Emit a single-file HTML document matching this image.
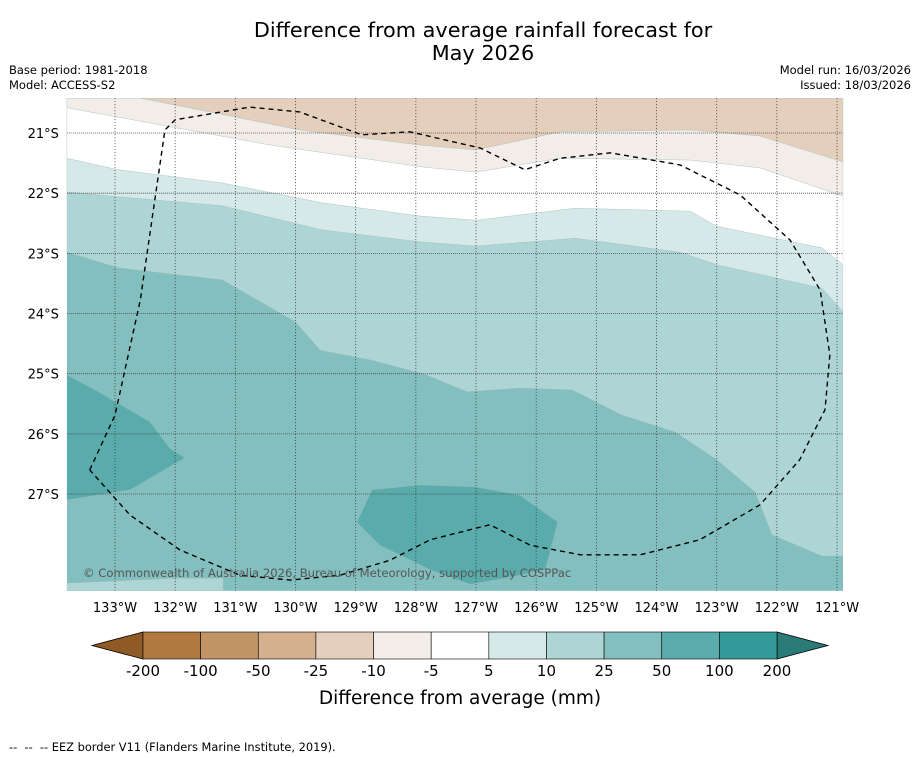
<!DOCTYPE html>
<html><head><meta charset="utf-8">
<style>
body{margin:0;background:#fff;}
#wrap{position:relative;width:919px;height:758px;overflow:hidden;font-family:"DejaVu Sans","Liberation Sans",sans-serif;}
.t{position:absolute;white-space:nowrap;color:#000;}
</style></head>
<body>
<div id="wrap">
<div class="t" style="left:0;width:966px;text-align:center;top:19px;font-size:20.8px;line-height:23px;">Difference from average rainfall forecast for<br>May 2026</div>
<div class="t" style="left:9px;top:63px;font-size:11.5px;line-height:15px;">Base period: 1981-2018<br>Model: ACCESS-S2</div>
<div class="t" style="right:8px;top:63px;font-size:11.5px;line-height:15px;text-align:right;">Model run: 16/03/2026<br>Issued: 18/03/2026</div>
<svg id="svg" width="919" height="758" style="position:absolute;left:0;top:0"></svg>
<div class="t" style="left:9px;top:740px;font-size:11.4px;">--&nbsp; --&nbsp; -- EEZ border V11 (Flanders Marine Institute, 2019).</div>
</div>
<script>
const lonTicks=[133,132,131,130,129,128,127,126,125,124,123,122,121];
const latTicks=[21,22,23,24,25,26,27];
const cbLevels=["-200","-100","-50","-25","-10","-5","5","10","25","50","100","200"];
const cbColors=["#b07a40","#c19466","#d4b08e","#e4cfbd","#f2ede8","#ffffff","#d5e9e8","#aed5d5","#84bfbf","#5aabab","#339a99"];
const lonMin=120.9, lonMax=133.8, latMin=20.42, latMax=28.61;
// contour bands as [lonW, lat]
const band10_25=[[133.8,20.42],[133.8,22.98],[132.95,23.24],[131.22,23.44],[130.0,24.14],[129.59,24.61],[128.76,24.77],[127.85,25.01],[127.15,25.30],[126.27,25.24],[125.40,25.27],[124.57,25.69],[123.69,25.97],[123.0,26.43],[122.36,26.97],[122.08,27.68],[121.25,28.03],[120.9,28.03],[120.9,20.42]];
const band5_10=[[133.8,20.42],[133.8,21.98],[132.95,22.06],[131.22,22.21],[129.56,22.61],[127.93,22.81],[127.0,22.88],[125.35,22.75],[123.61,22.98],[123.0,23.19],[121.25,23.58],[120.9,23.97],[120.9,20.42]];
const bandWhite=[[133.8,20.42],[133.8,21.42],[132.95,21.61],[131.22,21.83],[129.56,22.16],[127.93,22.38],[127.0,22.45],[125.35,22.25],[123.44,22.30],[123.0,22.55],[121.25,22.91],[120.9,23.19],[120.9,20.42]];
const bandM10=[[133.8,20.42],[133.8,20.58],[130.42,21.2],[127.85,21.57],[127.0,21.65],[125.6,21.42],[123.44,21.45],[122.28,21.58],[120.9,22.05],[120.9,20.42]];
const bandM25=[[132.58,20.42],[130.92,20.75],[129.93,20.95],[127.93,21.2],[127.0,21.28],[125.6,20.98],[123.44,20.95],[122.28,21.05],[120.9,21.48],[120.9,20.42]];
const band50a=[[133.8,25.02],[133.33,25.27],[132.42,25.8],[132.09,26.24],[131.84,26.4],[132.75,26.93],[133.8,27.1]];
const band50b=[[128.73,26.93],[127.93,26.85],[127.02,26.88],[126.27,27.02],[125.64,27.47],[125.85,28.26],[126.52,28.4],[127.1,28.5],[127.76,28.26],[128.6,27.85],[128.98,27.47]];
const bandBL=[[133.8,28.48],[132.0,28.4],[131.2,28.4],[131.2,28.61],[133.8,28.61]];
const eez=[[133.42,26.6],[133.0,25.69],[132.58,23.78],[132.17,20.95],[132.0,20.78],[130.76,20.57],[129.93,20.65],[128.9,21.03],[128.1,20.98],[126.93,21.25],[126.19,21.61],[125.6,21.42],[124.77,21.33],[123.61,21.53],[122.61,22.03],[121.78,22.78],[121.28,23.61],[121.12,24.69],[121.2,25.6],[121.62,26.43],[122.28,27.18],[123.28,27.76],[124.27,28.01],[125.27,28.01],[126.1,27.85],[126.77,27.51],[127.76,27.76],[128.43,28.1],[129.26,28.35],[130.09,28.43],[130.92,28.35],[131.92,27.93],[132.75,27.35],[133.42,26.6]];

const X=l=>115+(133-l)*60.17, Y=a=>133+(a-21)*60.17;
const svg=document.getElementById('svg');const NS='http://www.w3.org/2000/svg';
function mk(t,at,p){const e=document.createElementNS(NS,t);for(const k in at)e.setAttribute(k,at[k]);(p||svg).appendChild(e);return e;}
const x0=X(lonMax),x1=X(lonMin),y0=Y(latMin),y1=Y(latMax);
const defs=mk('defs',{});const cp=mk('clipPath',{id:'cp'},defs);mk('rect',{x:x0,y:y0,width:x1-x0,height:y1-y0},cp);
const g=mk('g',{'clip-path':'url(#cp)'});

const bg=mk('rect',{x:x0,y:y0,width:x1-x0,height:y1-y0,fill:'#84bfbf'},g);

function poly(pts,fill,name){const p=mk('polygon',{points:pts.map(q=>X(q[0])+','+Y(q[1])).join(' '),fill:fill,stroke:'#9fb8b8','stroke-width':0.4},g);
}
poly(band10_25,'#aed5d5','band-10-25');
poly(band5_10,'#d5e9e8','band-5-10');
poly(bandWhite,'#ffffff','band-neutral');
poly(bandM10,'#f2ede8','band-minus10-minus5');
poly(bandM25,'#e4cfbd','band-minus25-minus10');
poly(band50a,'#5aabab','band-50-100-west');
poly(band50b,'#5aabab','band-50-100-south');
poly(bandBL,'#aed5d5','band-10-25-southwest');
lonTicks.forEach(l=>{const e=mk('line',{x1:X(l),x2:X(l),y1:y0,y2:y1,stroke:'#333','stroke-width':0.8,'stroke-dasharray':'1,2'},g);

const t=mk('text',{x:X(l),y:y1+21,'text-anchor':'middle','font-size':13});t.textContent=l+'°W';
});
latTicks.forEach(a=>{const e=mk('line',{x1:x0,x2:x1,y1:Y(a),y2:Y(a),stroke:'#444','stroke-width':0.8,'stroke-dasharray':'1,1'},g);

const t=mk('text',{x:x0-8,y:Y(a)+5,'text-anchor':'end','font-size':13});t.textContent=a+'°S';
});
const ez=mk('polyline',{points:eez.map(q=>X(q[0])+','+Y(q[1])).join(' '),fill:'none',stroke:'#000','stroke-width':1.4,'stroke-dasharray':'5,4'},g);

const cr=mk('text',{x:83,y:577,'font-size':11.6,fill:'#555'},g);cr.textContent='© Commonwealth of Australia 2026, Bureau of Meteorology, supported by COSPPac';

// colorbar
const cbx0=143,cbx1=777,cby=632,cbh=27,w=(cbx1-cbx0)/cbColors.length;
const cb=mk('g',{});
const lt=mk('polygon',{points:`${cbx0},${cby} 92,${cby+cbh/2} ${cbx0},${cby+cbh}`,fill:'#8f5a25',stroke:'#000','stroke-width':0.8},cb);

const rt=mk('polygon',{points:`${cbx1},${cby} 828,${cby+cbh/2} ${cbx1},${cby+cbh}`,fill:'#2a7a78',stroke:'#000','stroke-width':0.8},cb);

cbColors.forEach((c,i)=>{const r=mk('rect',{x:cbx0+i*w,y:cby,width:w,height:cbh,fill:c,stroke:'#000','stroke-width':0.6},cb);
});
cbLevels.forEach((s,i)=>{const t=mk('text',{x:cbx0+i*w,y:676,'text-anchor':'middle','font-size':15},cb);t.textContent=s;
});
const cl=mk('text',{x:460,y:704,'text-anchor':'middle','font-size':18.5},cb);cl.textContent='Difference from average (mm)';

</script>
</body></html>
